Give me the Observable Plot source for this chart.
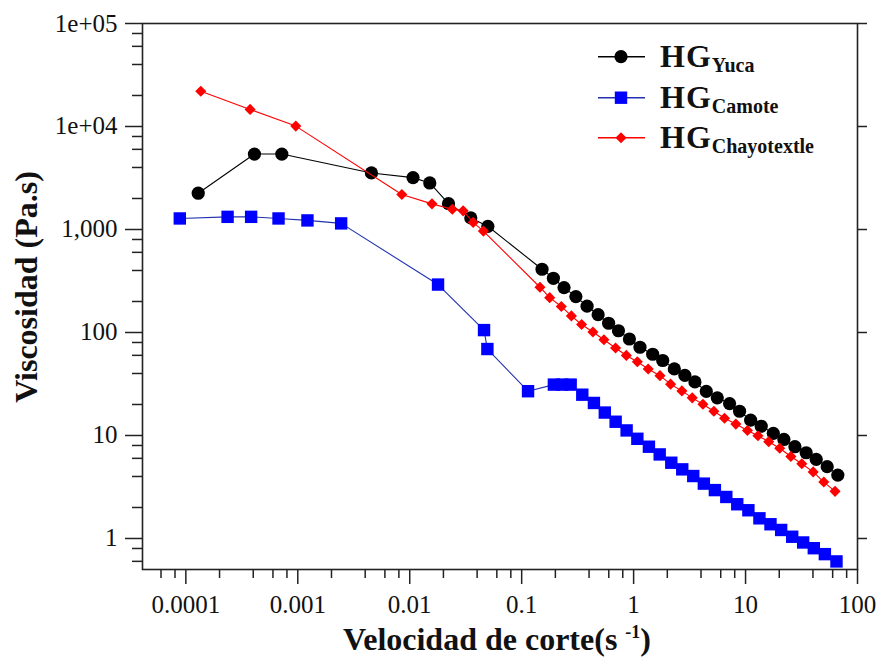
<!DOCTYPE html>
<html><head><meta charset="utf-8">
<script src="https://cdn.jsdelivr.net/npm/d3@7"></script>
<script src="https://cdn.jsdelivr.net/npm/@observablehq/plot@0.6"></script>
<style>body{margin:0;background:#fff;} #chart{width:879px;height:664px;}</style>
</head><body><div id="chart"></div>
<script>
// ---- data ----
const yucaX = [1.29e-4, 4.10e-4, 7.2e-4, 4.55e-3, 0.0107, 0.0151, 0.0222, 0.0351, 0.0499, 0.152, 0.192, 0.239, 0.305, 0.384, 0.482, 0.598, 0.732, 0.917, 1.14, 1.48, 1.82, 2.31, 2.87, 3.53, 4.46, 5.59, 7.20, 8.84, 11.1, 13.8, 17.7, 22.0, 27.6, 34.8, 42.8, 53.6, 66.7];
const yucaY = [2250, 5400, 5400, 3540, 3190, 2830, 1780, 1295, 1074, 411, 336, 273, 223, 180, 149, 123, 104, 86.5, 71.9, 61.5, 53.5, 44.3, 38.4, 33.1, 26.8, 23.2, 20.4, 17.2, 14.1, 12.3, 10.5, 9.15, 7.78, 6.80, 5.86, 4.98, 4.13];

const camoteX = [8.83e-5, 2.36e-4, 3.83e-4, 6.73e-4, 1.22e-3, 2.44e-3, 0.0179, 0.0461, 0.0494, 0.114, 0.194, 0.231, 0.274, 0.348, 0.442, 0.553, 0.691, 0.866, 1.08, 1.37, 1.71, 2.17, 2.72, 3.41, 4.24, 5.32, 6.73, 8.43, 10.6, 13.3, 16.7, 20.8, 26.1, 32.7, 40.7, 51.1, 64.9];
const camoteY = [1280, 1327, 1327, 1280, 1225, 1146, 292, 105.5, 69.1, 26.9, 31.2, 31.2, 31.2, 24.9, 20.7, 16.7, 13.6, 11.2, 9.29, 7.78, 6.55, 5.44, 4.69, 4.04, 3.41, 2.95, 2.53, 2.15, 1.88, 1.57, 1.375, 1.21, 1.04, 0.915, 0.805, 0.705, 0.599];

const chayoX = [1.36e-4, 3.75e-4, 9.6e-4, 8.5e-3, 0.0158, 0.024, 0.030, 0.0369, 0.0455, 0.1457, 0.178, 0.226, 0.278, 0.343, 0.433, 0.543, 0.69, 0.861, 1.08, 1.35, 1.72, 2.14, 2.70, 3.34, 4.16, 5.21, 6.49, 8.19, 10.4, 12.9, 16.1, 20.2, 25.4, 31.8, 40.2, 50.0, 63.0];
const chayoY = [22000, 14650, 10090, 2190, 1774, 1570, 1517, 1172, 965, 275, 218, 179, 145, 119.5, 101, 85, 70.6, 59.9, 52, 44.2, 38.1, 31.5, 27.1, 23.2, 20.1, 17.2, 14.7, 12.9, 11.2, 9.95, 8.71, 7.52, 6.26, 5.32, 4.43, 3.53, 2.87];

const seriesNames = ["Yuca", "Camote", "Chayotextle"];

// ---- ticks ----
const xMajor = [1e-4, 1e-3, 1e-2, 1e-1, 1, 10, 100];
const xLabels = ["0.0001", "0.001", "0.01", "0.1", "1", "10", "100"];
const xMinor = [6e-5, 8e-5, 2e-4, 4e-4, 6e-4, 8e-4, 2e-3, 4e-3, 6e-3, 8e-3, 0.02, 0.04, 0.06, 0.08, 0.2, 0.4, 0.6, 0.8, 2, 4, 6, 8, 20, 40, 60, 80];
const yMajor = [1, 10, 100, 1000, 1e4, 1e5];
const yLabels = ["1", "10", "100", "1,000", "1e+04", "1e+05"];
const yMinor = [0.6, 0.8, 2, 4, 6, 8, 20, 40, 60, 80, 200, 400, 600, 800, 2000, 4000, 6000, 8000, 2e4, 4e4, 6e4, 8e4];

// ---- build tables ----
const toRows = (xs, ys) => xs.map((x, i) => ({x, y: ys[i]}));
const yuca = toRows(yucaX, yucaY);
const camote = toRows(camoteX, camoteY);
const chayo = toRows(chayoX, chayoY);
const xLab = new Map(xMajor.map((v, i) => [v, xLabels[i]]));
const yLab = new Map(yMajor.map((v, i) => [v, yLabels[i]]));

const AX = "#222";
const styleS = {
  black: {line: "#000", fill: "#000", symbol: "circle", r: 6.6},
  blue: {line: "#2030b0", fill: "#0000ff", symbol: "square", r: 7.0},
  red: {line: "#ff0000", fill: "#ff0000", symbol: "diamond2", r: 5.0}
};

const plot = Plot.plot({
  width: 879, height: 664,
  marginLeft: 142, marginRight: 22, marginTop: 23, marginBottom: 95,
  style: {fontFamily: "'Liberation Serif', 'Times New Roman', serif", fontSize: "25px", color: "#111", background: "#fff", overflow: "visible"},
  x: {type: "log", domain: [4.1e-5, 100]},
  y: {type: "log", domain: [0.5, 1e5]},
  marks: [
    Plot.axisX({ticks: xMinor, tickSize: 9, tickFormat: () => "", label: null, stroke: AX, strokeWidth: 1.5}),
    Plot.axisX({ticks: xMajor, tickSize: 15, tickPadding: 11, tickFormat: d => xLab.get(d), label: null, stroke: AX, strokeWidth: 1.5, fill: "#111"}),
    Plot.axisY({ticks: yMinor, tickSize: 10, tickFormat: () => "", label: null, stroke: AX, strokeWidth: 1.5}),
    Plot.axisY({ticks: yMajor, tickSize: 17, tickPadding: 8, tickFormat: d => yLab.get(d), label: null, stroke: AX, strokeWidth: 1.5, fill: "#111"}),
    Plot.axisY({anchor: "right", ticks: yMajor, tickSize: 9, tickFormat: () => "", label: null, stroke: AX, strokeWidth: 1.5}),
    Plot.frame({stroke: AX, strokeWidth: 1.6}),
    Plot.line(yuca, {x: "x", y: "y", stroke: styleS.black.line, strokeWidth: 1.1}),
    Plot.dot(yuca, {x: "x", y: "y", fill: styleS.black.fill, symbol: styleS.black.symbol, r: styleS.black.r}),
    Plot.line(camote, {x: "x", y: "y", stroke: styleS.blue.line, strokeWidth: 1.1}),
    Plot.dot(camote, {x: "x", y: "y", fill: styleS.blue.fill, symbol: styleS.blue.symbol, r: styleS.blue.r}),
    Plot.line(chayo, {x: "x", y: "y", stroke: styleS.red.line, strokeWidth: 1.1}),
    Plot.dot(chayo, {x: "x", y: "y", fill: styleS.red.fill, symbol: styleS.red.symbol, r: styleS.red.r})
  ]
});
document.getElementById("chart").appendChild(plot);

// ---- titles and legend as real text ----
const svg = d3.select(plot);
const serif = "'Liberation Serif', 'Times New Roman', serif";

svg.append("text")
  .attr("transform", "translate(37,287) rotate(-90)")
  .attr("text-anchor", "middle")
  .attr("font-family", serif).attr("font-weight", "bold").attr("font-size", 32)
  .attr("fill", "#111")
  .text("Viscosidad (Pa.s)");

const xt = svg.append("text")
  .attr("x", 497).attr("y", 650)
  .attr("text-anchor", "middle")
  .attr("font-family", serif).attr("font-weight", "bold").attr("font-size", 32)
  .attr("fill", "#111");
xt.append("tspan").text("Velocidad de corte(s ");
xt.append("tspan").attr("font-size", 18).attr("dy", -12).text("-1");
xt.append("tspan").attr("dy", 12).text(")");

const legRows = [
  {name: seriesNames[0], s: styleS.black, y: 56.7, sym: d3.symbolCircle},
  {name: seriesNames[1], s: styleS.blue, y: 97.7, sym: d3.symbolSquare},
  {name: seriesNames[2], s: styleS.red, y: 137.7, sym: d3.symbolDiamond2}
];
const lg = svg.append("g").attr("text-anchor", "start");
legRows.forEach(row => {
  lg.append("line").attr("x1", 598).attr("x2", 645).attr("y1", row.y).attr("y2", row.y)
    .attr("stroke", row.s.line).attr("stroke-width", 1.6);
  lg.append("path")
    .attr("d", d3.symbol(row.sym, Math.PI * row.s.r * row.s.r)())
    .attr("transform", `translate(621,${row.y})`)
    .attr("fill", row.s.fill);
  const t = lg.append("text").attr("x", 660).attr("y", row.y + 10.5)
    .attr("text-anchor", "start")
    .attr("font-family", serif).attr("font-weight", "bold").attr("fill", "#111");
  t.append("tspan").attr("font-size", 32).attr("letter-spacing", 1).text("HG");
  t.append("tspan").attr("font-size", 20).attr("dy", 5).text(row.name);
});
</script>
</body></html>
